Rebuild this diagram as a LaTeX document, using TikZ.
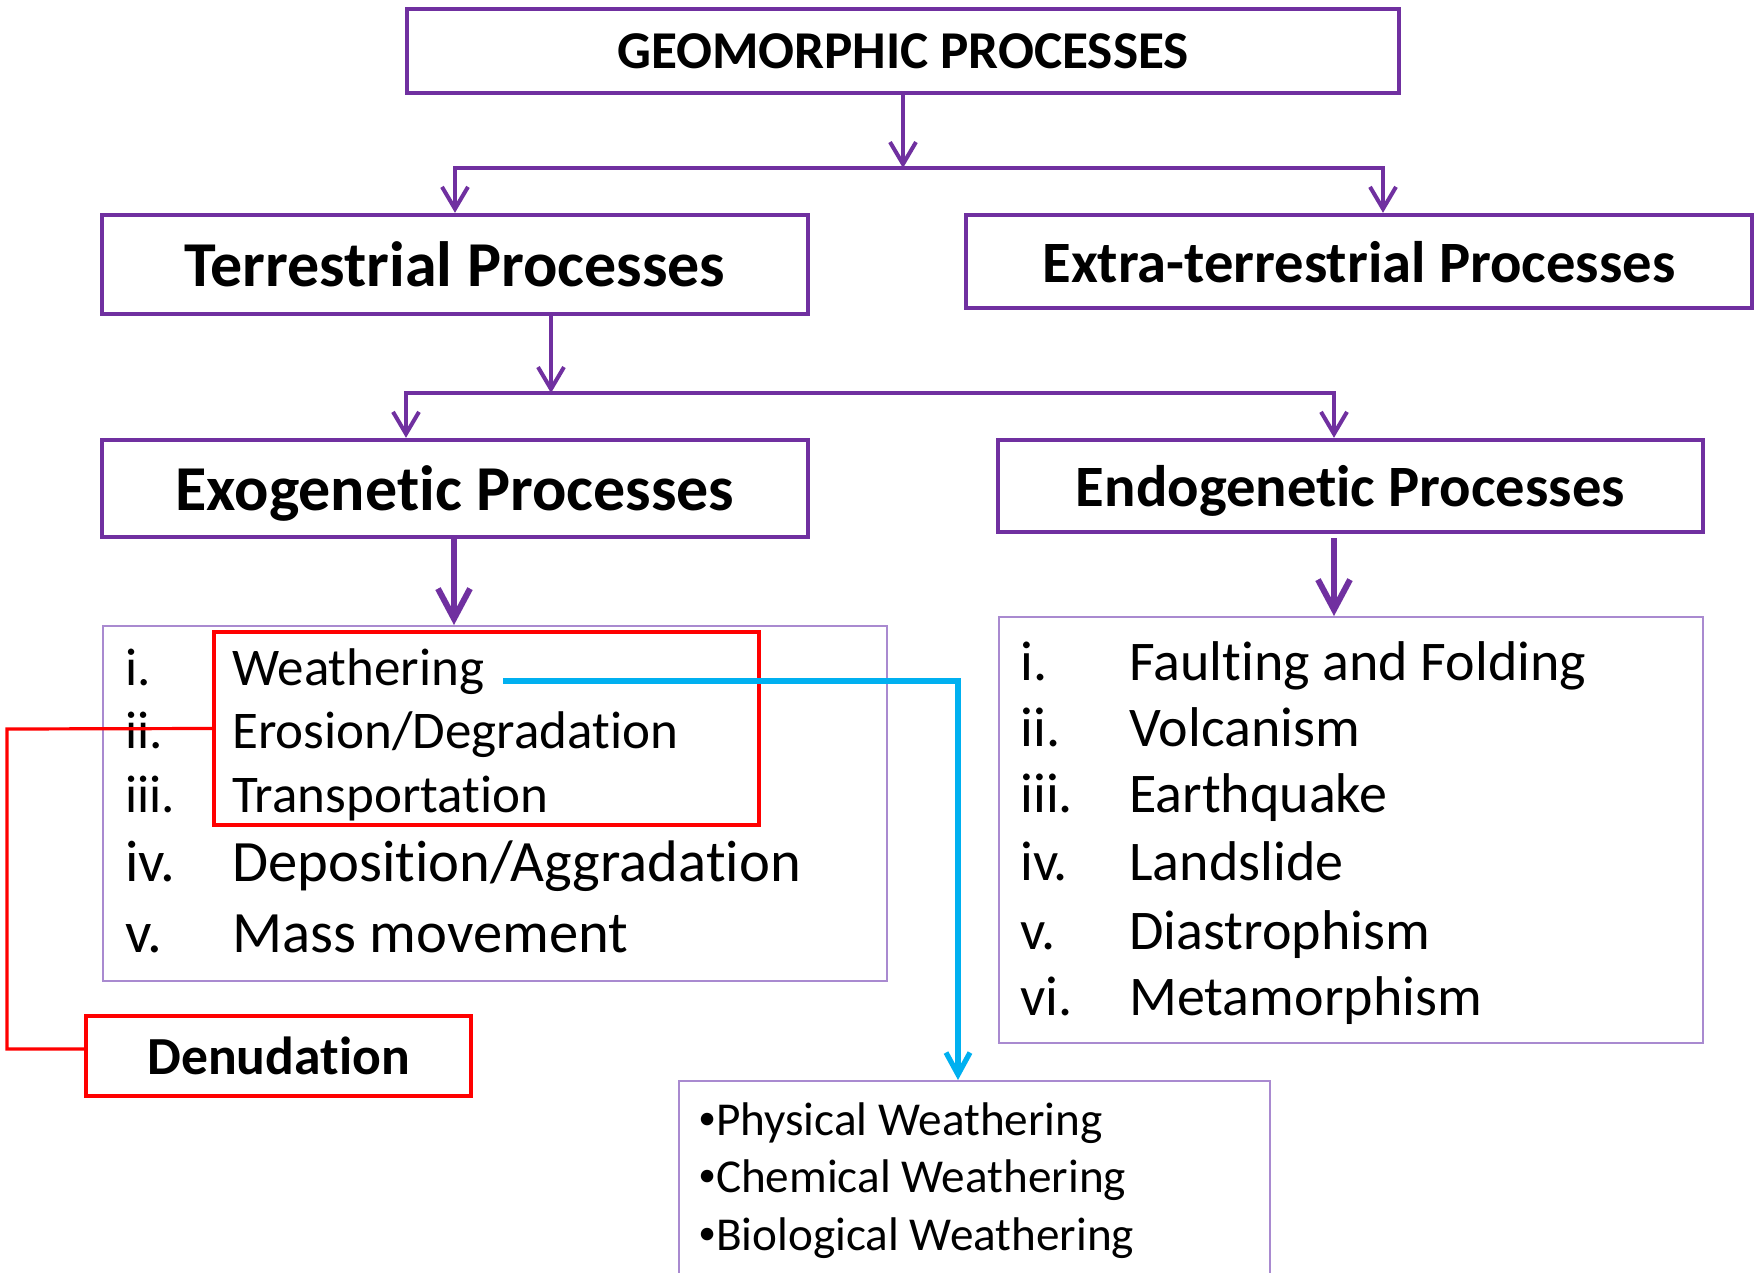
\documentclass[tikz,border=0pt]{standalone}
\usepackage{fontspec}
\setmainfont{Carlito}[Ligatures=NoCommon]
\usetikzlibrary{arrows.meta}
\definecolor{pur}{HTML}{7030A0}
\definecolor{lpur}{HTML}{A98AD0}
\definecolor{rd}{HTML}{FF0000}
\definecolor{bl}{HTML}{00B0F0}
\newcommand{\smbul}{\raisebox{0.12em}{\scalebox{0.75}{\textbullet}}}
\tikzset{
  titlebox/.style={draw=pur, line width=2.2pt, rectangle, inner sep=0pt, text depth=0pt, font=\bfseries},
  listbox/.style={draw=lpur, line width=1pt, rectangle, inner sep=0pt},
  redbox/.style={draw=rd, line width=1.8pt, rectangle, inner sep=0pt},
  itemtxt/.style={anchor=base west, inner sep=0pt},
  conn/.style={draw=pur, line width=2pt, -{Straight Barb[length=11pt,width=13pt,line width=2pt]}},
  plain/.style={draw=pur, line width=2pt},
  bigconn/.style={draw=pur, line width=3pt, -{Straight Barb[length=15pt,width=16pt,line width=3pt]}},
  redline/.style={draw=rd, line width=1.6pt},
  blueconn/.style={draw=bl, line width=2.6pt, -{Straight Barb[length=11pt,width=12pt,line width=2.6pt]}}
}
\begin{document}
\begin{tikzpicture}[x=0.5pt,y=-0.5pt]
\clip (0,0) rectangle (1758,1273);
\useasboundingbox (0,0) rectangle (1758,1273);
\fill[white] (0,0) rectangle (1758,1273);

% title boxes
\node[titlebox, minimum width=496pt, minimum height=42pt, font=\fontsize{26.6}{32}\bfseries\selectfont] (geo) at (903,51) {GEOMORPHIC PROCESSES};
\node[titlebox, minimum width=353pt, minimum height=49.5pt, font=\fontsize{32}{38}\bfseries\selectfont] (terr) at (455,264.5) {Terrestrial Processes};
\node[titlebox, minimum width=393pt, minimum height=46.5pt, font=\fontsize{29.3}{35}\bfseries\selectfont] (extra) at (1359,261.5) {Extra-terrestrial Processes};
\node[titlebox, minimum width=353pt, minimum height=48.5pt, font=\fontsize{32}{38}\bfseries\selectfont] (exo) at (455,488.5) {Exogenetic Processes};
\node[titlebox, minimum width=352.5pt, minimum height=46pt, font=\fontsize{29.3}{35}\bfseries\selectfont] (endo) at (1350.5,486) {Endogenetic Processes};

% list boxes
\node[listbox, minimum width=392pt, minimum height=177.5pt] (exolist) at (495,803.5) {};
\node[listbox, minimum width=352pt, minimum height=213pt] (endolist) at (1351,830) {};
\node[listbox, minimum width=295.5pt, minimum height=109.5pt] (wbox) at (974.5,1190.5) {};

% red boxes
\node[redbox, minimum width=272.5pt, minimum height=96.5pt] (red) at (486.5,728.5) {};
\node[redbox, minimum width=192.5pt, minimum height=40pt, text depth=0pt, font=\fontsize{26.8}{32}\bfseries\selectfont] (denud) at (278.5,1056) {Denudation};

% exogenetic list
\begin{scope}[font=\fontsize{26.5}{32}\selectfont]
\node[itemtxt] (n1) at (125,685) {i.};
\node[itemtxt] (t1) at (232,685) {Weathering};
\node[itemtxt] (n2) at (125,748) {ii.};
\node[itemtxt] (t2) at (232,748) {Erosion/Degradation};
\node[itemtxt] (n3) at (125,812) {iii.};
\node[itemtxt] (t3) at (232,812) {Transportation};
\end{scope}
\begin{scope}[font=\fontsize{29.3}{35}\selectfont]
\node[itemtxt] (n4) at (125,881) {iv.};
\node[itemtxt] (t4) at (232,881) {Deposition/Aggradation};
\node[itemtxt] (n5) at (125,952) {v.};
\node[itemtxt] (t5) at (232,952) {Mass movement};
\end{scope}

% endogenetic list
\begin{scope}[font=\fontsize{28}{34}\selectfont]
\node[itemtxt] (e1) at (1020,680) {i.};
\node[itemtxt] (f1) at (1129,680) {Faulting and Folding};
\node[itemtxt] (e2) at (1020,746) {ii.};
\node[itemtxt] (f2) at (1129,746) {Volcanism};
\node[itemtxt] (e3) at (1020,812) {iii.};
\node[itemtxt] (f3) at (1129,812) {Earthquake};
\node[itemtxt] (e4) at (1020,880) {iv.};
\node[itemtxt] (f4) at (1129,880) {Landslide};
\node[itemtxt] (e5) at (1020,949) {v.};
\node[itemtxt] (f5) at (1129,949) {Diastrophism};
\node[itemtxt] (e6) at (1020,1015) {vi.};
\node[itemtxt] (f6) at (1129,1015) {Metamorphism};
\end{scope}

% weathering list
\begin{scope}[font=\fontsize{23.6}{28}\selectfont]
\node[itemtxt] (w1) at (698,1135) {\smbul Physical Weathering};
\node[itemtxt] (w2) at (698,1192) {\smbul Chemical Weathering};
\node[itemtxt] (w3) at (698,1250) {\smbul Biological Weathering};
\end{scope}

% connectors level 1
\coordinate (j1) at (903,168);
\coordinate (j1R) at (1383,168);
\draw[conn] (geo.south) -- (j1);
\draw[conn] (j1) -| (terr.north);
\draw[conn] (j1) -- (j1R) -- (j1R |- extra.north);

% connectors level 2
\coordinate (tb) at (551,314);
\coordinate (j2) at (551,393);
\coordinate (j2L) at (406,393);
\coordinate (j2R) at (1334,393);
\draw[conn] (tb) -- (j2);
\draw[conn] (j2) -- (j2L) -- (j2L |- exo.north);
\draw[conn] (j2) -- (j2R) -- (j2R |- endo.north);

% thick arrows to lists
\coordinate (xa) at (454,537);
\draw[bigconn] (xa) -- (xa |- exolist.north);
\coordinate (ea) at (1334,538);
\draw[bigconn] (ea) -- (ea |- endolist.north);

% red connector to Denudation
\coordinate (rc) at (7,729);
\draw[redline] (red.west) -- (rc) |- ([yshift=3.5pt]denud.west);

% blue connector to weathering types
\coordinate (bs) at (503,681);
\coordinate (bt) at (958,681);
\draw[blueconn] (bs) -- (bt) -- (bt |- wbox.north);
\end{tikzpicture}
\end{document}
